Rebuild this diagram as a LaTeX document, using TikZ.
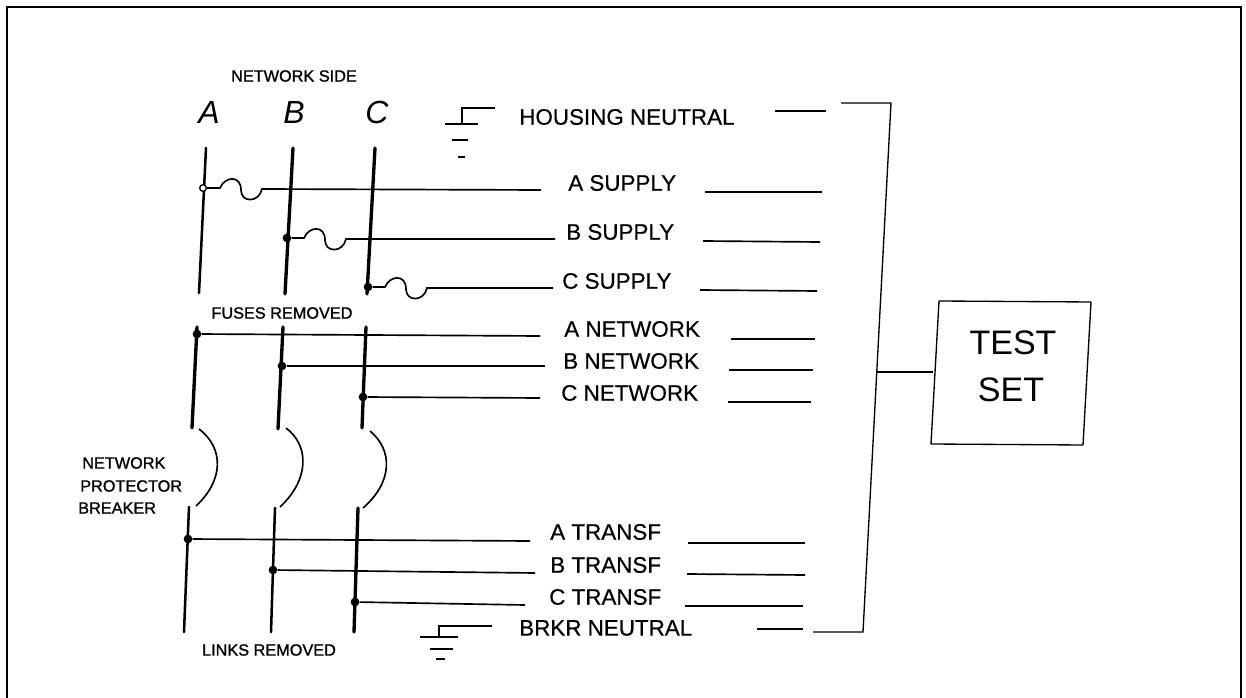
\documentclass[tikz,border=0pt]{standalone}
\usepackage{fontspec}
\setmainfont{Liberation Sans}
\newfontfamily\semibold[FakeBold=1.2]{Liberation Sans}
\newfontfamily\semilab[FakeBold=0.5]{Liberation Sans}
\tikzset{
  x=0.75pt,y=-0.75pt,
  busbar/.style={line width=2.5pt,line cap=round},
  busthin/.style={line width=1.9pt,line cap=round},
  wire/.style={line width=1.25pt},
  thinwire/.style={line width=1pt},
  joint/.style={circle,fill=black,inner sep=0pt,minimum size=6.5pt},
  lab/.style={anchor=west,inner sep=0pt,font=\semilab\fontsize{16.8}{18}\selectfont},
  small/.style={inner sep=0pt,align=center,font=\semibold\fontsize{12.2}{14}\selectfont},
  phase/.style={inner sep=0pt,font=\fontsize{24}{26}\selectfont\itshape},
}
\begin{document}
\begin{tikzpicture}
\useasboundingbox (0,0) rectangle (1246,698);
\draw[line width=1.6pt] (7,698) -- (7,7) -- (1241,7) -- (1241,698);

% Phase letters and captions
\node[small] (netside) at (294,76) {NETWORK SIDE};
\node[phase] (pa) at (209,112) {A};
\node[phase] (pb) at (294,112) {B};
\node[phase] (pc) at (377,112) {C};
\node[small] (fuses) at (282,313) {FUSES REMOVED};
\node[small,anchor=west] (npb1) at (82,463) {NETWORK};
\node[small,anchor=west] (npb2) at (80,486) {PROTECTOR};
\node[small,anchor=west] (npb3) at (78,508) {BREAKER};
\node[small] (links) at (269,650) {LINKS REMOVED};

% Bus end points
\coordinate (a1t) at (206,148); \coordinate (a1b) at (199,293);
\coordinate (b1t) at (293,148); \coordinate (b1b) at (285,294);
\coordinate (c1t) at (375,148); \coordinate (c1b) at (367,294);
\coordinate (a2t) at (197,327); \coordinate (a2b) at (192,428);
\coordinate (b2t) at (283,327); \coordinate (b2b) at (278,429);
\coordinate (c2t) at (366,327); \coordinate (c2b) at (362,428);
\coordinate (a3t) at (189,507); \coordinate (a3b) at (184,632);
\coordinate (b3t) at (275,508); \coordinate (b3b) at (271,632);
\coordinate (c3t) at (358,508); \coordinate (c3b) at (354,632);
\draw[busthin] (a1t) -- (a1b);
\draw[busbar] (b1t) -- (b1b);
\draw[busbar] (c1t) -- (c1b);
\draw[busbar] (a2t) -- (a2b);
\draw[busbar] (b2t) -- (b2b);
\draw[busbar] (c2t) -- (c2b);
\draw[busthin] (a3t) -- (a3b);
\draw[busthin] (b3t) -- (b3b);
\draw[busbar] (c3t) -- (c3b);

% Breaker contacts
\coordinate (ac1) at (199,429); \coordinate (ac2) at (196,506);
\coordinate (bc1) at (286,428); \coordinate (bc2) at (280,507);
\coordinate (cc1) at (370,431); \coordinate (cc2) at (363,508);
\draw[wire] (ac1) .. controls (224,448) and (224,480) .. (ac2);
\draw[wire] (bc1) .. controls (310,446) and (309,480) .. (bc2);
\draw[wire] (cc1) .. controls (393,450) and (393,482) .. (cc2);

% Junctions
\node[circle,draw,fill=white,line width=1pt,inner sep=0pt,minimum size=5pt] (ja1) at (203,188) {};
\node[joint] (jb1) at (287,238) {};
\node[joint] (jc1) at (368,287) {};
\node[joint] (ja2) at (197,334) {};
\node[joint] (jb2) at (282,366) {};
\node[joint] (jc2) at (363,397) {};
\node[joint] (ja3) at (188,539) {};
\node[joint] (jb3) at (273,570) {};
\node[joint] (jc3) at (355,602) {};

% Labels
\node[lab] (lhn) at (519,117) {HOUSING NEUTRAL};
\node[lab] (las) at (568,183) {A SUPPLY};
\node[lab] (lbs) at (566,232) {B SUPPLY};
\node[lab] (lcs) at (562,281) {C SUPPLY};
\node[lab] (lan) at (564,329) {A NETWORK};
\node[lab] (lbn) at (563,361) {B NETWORK};
\node[lab] (lcn) at (561,393) {C NETWORK};
\node[lab] (lat) at (550,532) {A TRANSF};
\node[lab] (lbt) at (550,565) {B TRANSF};
\node[lab] (lct) at (549,597) {C TRANSF};
\node[lab] (lbr) at (519,628) {BRKR NEUTRAL};

% Fused supply wires
\coordinate (eas) at (541,190);
\coordinate (ebs) at (555,239);
\coordinate (ecs) at (553,288);
\draw[wire] (ja1.east) -- (220,188)
  .. controls (225,176) and (241,175) .. (241,190)
  .. controls (241,203) and (259,203) .. (262,189) -- (eas);
\draw[wire] (jb1) -- (304,238)
  .. controls (309,226) and (325,225) .. (325,240)
  .. controls (325,253) and (343,253) .. (346,239) -- (ebs);
\draw[wire] (jc1) -- (385,287)
  .. controls (390,275) and (406,274) .. (406,289)
  .. controls (406,302) and (424,302) .. (427,288) -- (ecs);

% Plain wires
\coordinate (ean) at (540,336);
\coordinate (ebn) at (545,366);
\coordinate (ecn) at (540,398);
\coordinate (eat) at (530,541);
\coordinate (ebt) at (535,573);
\coordinate (ect) at (525,605);
\draw[wire] (ja2) -- (ean);
\draw[wire] (jb2) -- (ebn);
\draw[wire] (jc2) -- (ecn);
\draw[wire] (ja3) -- (eat);
\draw[wire] (jb3) -- (ebt);
\draw[wire] (jc3) -- (ect);

% Stubs on the right
\coordinate (s1l) at (775,111); \coordinate (s1r) at (826,111);
\coordinate (s2l) at (705,192); \coordinate (s2r) at (822,192);
\coordinate (s3l) at (703,241); \coordinate (s3r) at (820,242);
\coordinate (s4l) at (700,290); \coordinate (s4r) at (817,291);
\coordinate (s5l) at (731,339); \coordinate (s5r) at (815,339);
\coordinate (s6l) at (729,370); \coordinate (s6r) at (813,370);
\coordinate (s7l) at (728,402); \coordinate (s7r) at (811,402);
\coordinate (s8l) at (688,543); \coordinate (s8r) at (805,543);
\coordinate (s9l) at (687,574); \coordinate (s9r) at (805,575);
\coordinate (s10l) at (685,606); \coordinate (s10r) at (803,606);
\coordinate (s11l) at (757,629); \coordinate (s11r) at (803,629);
\foreach \i in {1,...,11} {\draw[wire] (s\i l) -- (s\i r);}

% Bracket and test set
\coordinate (brt) at (841,103);
\coordinate (brtc) at (891,103);
\coordinate (brbc) at (863,632);
\coordinate (brb) at (813,632);
\coordinate (brm) at (877,372);
\draw[thinwire] (brt) -- (brtc) -- (brbc) -- (brb);
\coordinate (tl) at (939,301); \coordinate (tr) at (1091,302);
\coordinate (br) at (1083,445); \coordinate (bl) at (931,444);
\draw[thinwire,line join=round] (tl) -- (tr) -- (br) -- (bl) -- cycle;
\coordinate (tcon) at (933,372);
\draw[thinwire] (brm) -- (tcon);
\node[inner sep=0pt,font=\fontsize{25.5}{28}\selectfont] (test) at (1013,343) {TEST};
\node[inner sep=0pt,font=\fontsize{25.5}{28}\selectfont] (set) at (1011,390) {SET};

% Grounds
\coordinate (g1a) at (495,108); \coordinate (g1b) at (462,108); \coordinate (g1c) at (462,124);
\draw[thinwire] (g1a) -- (g1b) -- (g1c);
\draw[wire] (445,124) -- (478,124);
\draw[wire] (452,140) -- (468,140);
\draw[wire] (458,157) -- (465,157);
\coordinate (g2a) at (492,626); \coordinate (g2b) at (439,626); \coordinate (g2c) at (439,637);
\draw[thinwire] (g2a) -- (g2b) -- (g2c);
\draw[wire] (420,637) -- (458,637);
\draw[wire] (430,649) -- (453,649);
\draw[wire] (436,659) -- (445,659);
\end{tikzpicture}
\end{document}
